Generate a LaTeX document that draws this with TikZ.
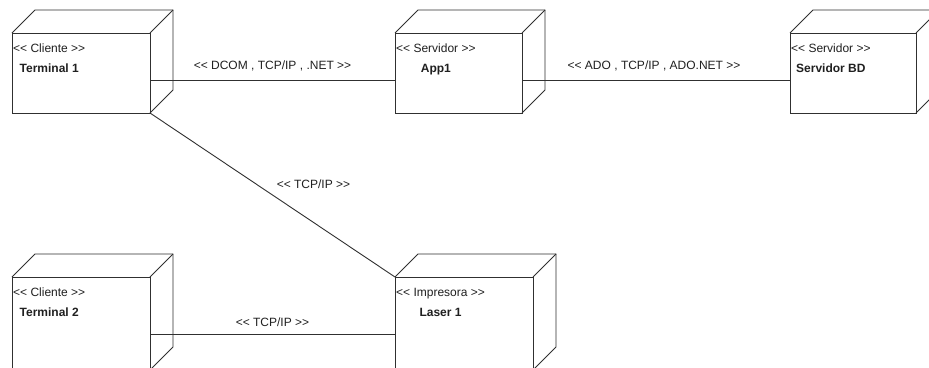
\documentclass[tikz,border=0pt]{standalone}
\usepackage{fontspec}
\newfontfamily\arialf{Liberation Sans}
\usetikzlibrary{calc}
\definecolor{linec}{HTML}{303030}
\definecolor{textc}{HTML}{202020}
\tikzset{
  front/.style={draw=linec, line width=0.9pt, rectangle, inner sep=0pt, outer sep=0pt, anchor=north west},
  edge/.style={draw=linec, line width=0.9pt, line join=miter},
  conn/.style={draw=linec, line width=0.9pt},
  stereo/.style={anchor=north west, inner sep=1pt, align=center, text=textc, font=\arialf\fontsize{12}{14}\selectfont},
  clabel/.style={text=textc, inner sep=0pt, font=\arialf\fontsize{12}{14}\selectfont}
}
\newcommand\depnode[7]{%
  \node[front, minimum width=#4pt, minimum height=#5pt] (#1) at (#2,#3) {};
  \draw[edge] (#1.north west) -- ++(23,-23) -- ($(#1.north east)+(23,-23)$) -- ($(#1.south east)+(23,-23)$) -- (#1.south east);
  \draw[edge] (#1.north east) -- ++(23,-23);
  \node[stereo] (#1-txt) at ($(#1.north west)+(0,10)$) {<< #6 >>\\[6pt]\textbf{#7}};
}
\begin{document}
\begin{tikzpicture}[x=1pt,y=-1pt]
\useasboundingbox[fill=white] (0,0) rectangle (929,367);
\depnode{t1}{12}{33}{138}{80}{Cliente}{Terminal 1}
\depnode{a1}{395}{33}{127}{80}{Servidor}{App1}
\depnode{bd}{790}{33}{126}{80}{Servidor}{Servidor BD}
\depnode{t2}{12}{277}{138}{93}{Cliente}{Terminal 2}
\depnode{l1}{395}{277}{138}{93}{Impresora}{Laser 1}
% connectors
\path (t1.north east) ++(0,47) coordinate (c1);
\draw[conn] (c1) -- (c1 -| a1.west) node[clabel, midway, yshift=14pt] (lab1) {<< DCOM , TCP/IP , .NET >>};
\path (a1.north east) ++(0,47) coordinate (c2);
\draw[conn] (c2) -- (c2 -| bd.west) node[clabel, midway, xshift=-2pt, yshift=14pt] (lab2) {<< ADO , TCP/IP , ADO.NET >>};
\draw[conn] (t1.south east) -- (l1.north west) node[clabel, midway, xshift=41pt, yshift=11pt] (lab3) {<< TCP/IP >>};
\path (t2.north east) ++(0,57) coordinate (c3);
\draw[conn] (c3) -- (c3 -| l1.west) node[clabel, midway, yshift=12pt] (lab4) {<< TCP/IP >>};
\end{tikzpicture}
\end{document}
